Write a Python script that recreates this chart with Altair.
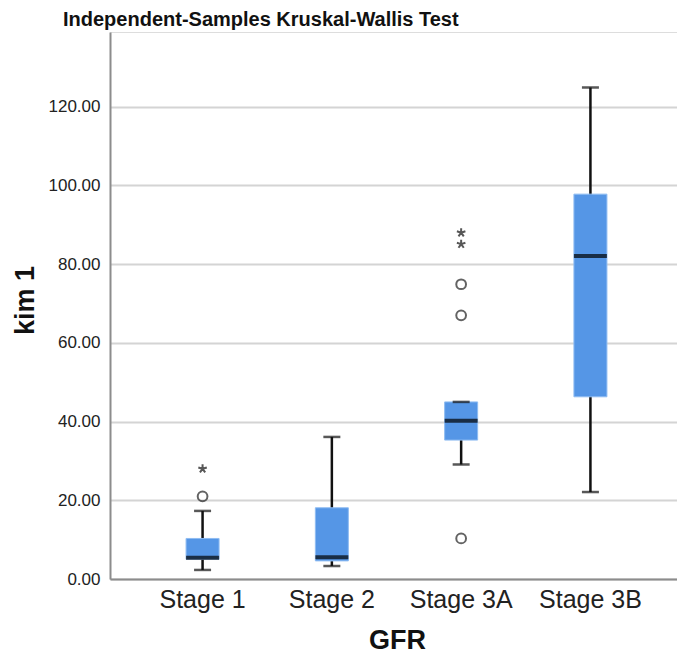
import altair as alt
import pandas as pd

groups = ["Stage 1", "Stage 2", "Stage 3A", "Stage 3B"]
whisker_low = [2.3, 3.3, 29.1, 22.1]
q1 = [5.0, 4.6, 35.3, 46.3]
median = [5.4, 5.5, 40.2, 82.1]
q3 = [10.3, 18.1, 45.0, 97.8]
whisker_high = [17.3, 36.1, 45.0, 124.9]

outlier_group = ["Stage 1", "Stage 3A", "Stage 3A", "Stage 3A"]
outlier_value = [21.0, 74.9, 67.0, 10.3]

extreme_group = ["Stage 1", "Stage 3A", "Stage 3A"]
extreme_value = [28.0, 88.0, 85.1]

y_ticks = [0, 20, 40, 60, 80, 100, 120]

box_df = pd.DataFrame({"GFR": groups, "low": whisker_low, "q1": q1,
                       "median": median, "q3": q3, "high": whisker_high})
out_df = pd.DataFrame({"GFR": outlier_group, "value": outlier_value})
ext_df = pd.DataFrame({"GFR": extreme_group, "value": extreme_value})

FONT = "Liberation Sans"

xscale = alt.Scale(domain=groups, range=[0, 573], paddingInner=0, paddingOuter=0.216)
yscale = alt.Scale(domain=[0, 139], nice=False)

xax = alt.X("GFR:N", scale=xscale, sort=groups,
            axis=alt.Axis(title="GFR", labelAngle=0, labelFontSize=25, labelFont=FONT,
                          labelColor="#222222", labelPadding=8, ticks=False,
                          domainColor="#8c8c8c", domainWidth=2,
                          titleFont=FONT, titleFontSize=27, titleFontWeight="bold",
                          titleColor="#111111", titleY=61, titleX=287,
                          titleBaseline="middle", grid=False))

yax = alt.Axis(title="kim 1", values=y_ticks, format=".2f", labelFontSize=17,
               labelFont=FONT, labelColor="#222222", labelPadding=10, ticks=False,
               domainColor="#8c8c8c", domainWidth=2, gridColor="#d4d4d4", gridWidth=2,
               titleFont=FONT, titleFontSize=27, titleFontWeight="bold",
               titleColor="#111111", titleAngle=-90, titleX=-85, titleY=268,
               titleBaseline="middle", titleAlign="center")

base = alt.Chart(box_df)

whisker = base.mark_rule(color="#111111", strokeWidth=2.5).encode(
    x=xax,
    y=alt.Y("low:Q", scale=yscale, axis=yax),
    y2="high:Q",
)
box = base.mark_bar(size=33, color="#5596e6", stroke="#8fbcf2", strokeWidth=1).encode(
    x=alt.X("GFR:N", scale=xscale, sort=groups),
    y=alt.Y("q1:Q", scale=yscale),
    y2="q3:Q",
)
med = base.mark_tick(size=33, thickness=4, color="#000000").encode(
    x=alt.X("GFR:N", scale=xscale, sort=groups),
    y=alt.Y("median:Q", scale=yscale),
)
cap_low = base.mark_tick(size=17, thickness=2.5, color="#111111").encode(
    x=alt.X("GFR:N", scale=xscale, sort=groups),
    y=alt.Y("low:Q", scale=yscale),
)
cap_high = base.mark_tick(size=17, thickness=2.5, color="#111111").encode(
    x=alt.X("GFR:N", scale=xscale, sort=groups),
    y=alt.Y("high:Q", scale=yscale),
)
outliers = alt.Chart(out_df).mark_point(shape="circle", size=95, filled=False,
                                         color="#222222", strokeWidth=2).encode(
    x=alt.X("GFR:N", scale=xscale, sort=groups),
    y=alt.Y("value:Q", scale=yscale),
)
star_path = ("M0,0L0,-1M0,0L0.951,-0.309M0,0L0.588,0.809"
             "M0,0L-0.588,0.809M0,0L-0.951,-0.309")
extremes = alt.Chart(ext_df).mark_point(shape=star_path, size=80, filled=False,
                                         color="#111111", strokeWidth=2).encode(
    x=alt.X("GFR:N", scale=xscale, sort=groups),
    y=alt.Y("value:Q", scale=yscale),
)

chart = alt.layer(whisker, box, med, cap_low, cap_high, outliers, extremes).properties(
    width=567,
    height=547,
    title=alt.TitleParams("Independent-Samples Kruskal-Wallis Test", font=FONT,
                          fontSize=20, fontWeight="bold", color="#111111",
                          anchor="start", frame="group", dx=-47, offset=2),
    autosize=alt.AutoSizeParams(type="none"),
    padding={"left": 102, "top": 24, "right": 0, "bottom": 78},
).configure_view(stroke=None).configure(background="white")

chart.save("out.html", embed_options={"renderer": "svg", "actions": False})
